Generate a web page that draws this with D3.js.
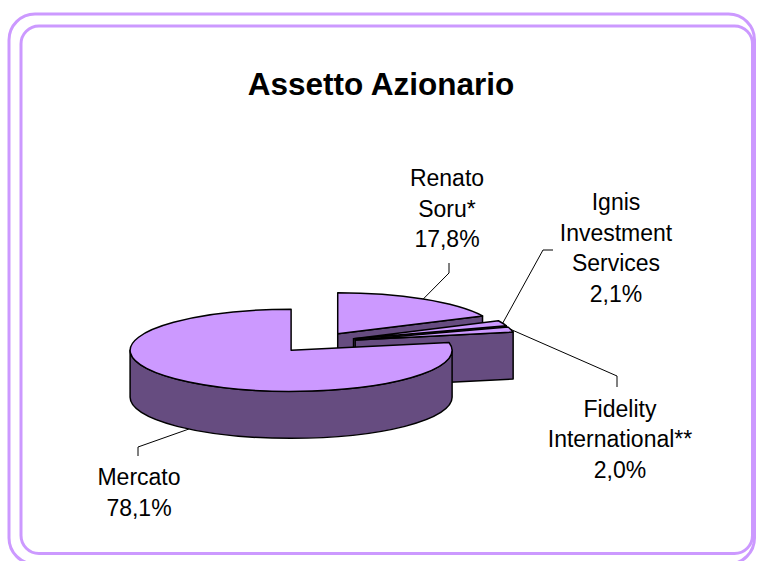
<!DOCTYPE html>
<html>
<head>
<meta charset="utf-8">
<script src="https://cdn.jsdelivr.net/npm/d3@7"></script>
<style>
  body { margin: 0; background: #fff; }
  svg { display: block; font-family: "Liberation Sans", Arial, sans-serif; }
</style>
</head>
<body>
<svg width="757" height="561"></svg>
<script>
// Slices, clockwise from 12 o'clock
const names = [["Renato", "Soru*"], ["Ignis", "Investment", "Services"], ["Fidelity", "International**"], ["Mercato"]];
const shares = [17.8, 2.1, 2.0, 78.1];
const title = "Assetto Azionario";

// label placement: text centre, first baseline, leader elbow points
const labelPos = [
    {x: 447, y: 186, elbow: [[449, 273], [449, 263]]},
    {x: 616, y: 210, elbow: [[543, 250], [553, 250]]},
    {x: 620, y: 416.5, elbow: [[617, 376], [617, 387]]},
    {x: 139, y: 485, elbow: [[138, 447], [138, 456]]}
];

// pie geometry
const cx = 316.5, cy = 342.5, rx = 161, ry = 41, depth = 47, explode = 40;
const topColor = "#cc99ff", sideColor = "#664c80";
const lineGap = 30.5;

const svg = d3.select("svg");

// double rounded frame
svg.append("rect")
    .attr("x", 9).attr("y", 14).attr("width", 745.5).attr("height", 550).attr("rx", 26)
    .attr("fill", "none").attr("stroke", "#cc99ff").attr("stroke-width", 3);
svg.append("rect")
    .attr("x", 21).attr("y", 26).attr("width", 731.5).attr("height", 527.5).attr("rx", 18)
    .attr("fill", "none").attr("stroke", "#cc99ff").attr("stroke-width", 3);

// title
svg.append("text")
    .attr("x", 381).attr("y", 95)
    .attr("text-anchor", "middle")
    .style("font-size", "31.5px").style("font-weight", "bold")
    .text(title);

const arcs = d3.pie().sort(null).value(d => d)(shares);

function pt(c, a, z) {
    return [c[0] + rx * Math.sin(a), c[1] - ry * Math.cos(a) + z];
}
function centerOf(d) {
    const mid = (d.startAngle + d.endAngle) / 2;
    return [cx + explode * Math.sin(mid), cy - explode * ry / rx * Math.cos(mid)];
}
function topPath(c, a0, a1) {
    const large = a1 - a0 > Math.PI ? 1 : 0;
    return `M${c[0]},${c[1]}L${pt(c, a0, 0)}A${rx},${ry} 0 ${large} 1 ${pt(c, a1, 0)}Z`;
}
function wallPath(c, b0, b1) {
    const large = b1 - b0 > Math.PI ? 1 : 0;
    return `M${pt(c, b0, 0)}A${rx},${ry} 0 ${large} 1 ${pt(c, b1, 0)}` +
           `L${pt(c, b1, depth)}A${rx},${ry} 0 ${large} 0 ${pt(c, b0, depth)}Z`;
}
function sidePath(c, a) {
    return `M${c[0]},${c[1]}L${pt(c, a, 0)}L${pt(c, a, depth)}L${c[0]},${c[1] + depth}Z`;
}

// paint back slices first
const order = arcs.map((d, i) => i)
    .sort((i, j) => -Math.cos((arcs[i].startAngle + arcs[i].endAngle) / 2) + Math.cos((arcs[j].startAngle + arcs[j].endAngle) / 2));

const pieG = svg.append("g")
    .attr("stroke", "#000").attr("stroke-width", 1.5).attr("stroke-linejoin", "round");

order.forEach(i => {
    const d = arcs[i], c = centerOf(d);
    const g = pieG.append("g");
    if (Math.sin(d.startAngle) < -0.001) g.append("path").attr("d", sidePath(c, d.startAngle)).attr("fill", sideColor);
    if (Math.sin(d.endAngle) > 0.001) g.append("path").attr("d", sidePath(c, d.endAngle)).attr("fill", sideColor);
    const b0 = Math.max(d.startAngle, Math.PI / 2), b1 = Math.min(d.endAngle, 3 * Math.PI / 2);
    if (b1 > b0) g.append("path").attr("d", wallPath(c, b0, b1)).attr("fill", sideColor);
    g.append("path").attr("d", topPath(c, d.startAngle, d.endAngle)).attr("fill", topColor);
});

// labels and leader lines
const pct = v => d3.format(".1f")(v).replace(".", ",") + "%";

arcs.forEach((d, i) => {
    const c = centerOf(d), mid = (d.startAngle + d.endAngle) / 2;
    const anchor = pt(c, mid, Math.cos(mid) < 0 ? depth : 0);
    svg.append("path")
        .attr("d", d3.line()([anchor, ...labelPos[i].elbow]))
        .attr("fill", "none").attr("stroke", "#000").attr("stroke-width", 1);

    const lines = names[i].concat(pct(shares[i]));
    svg.append("text")
        .attr("text-anchor", "middle")
        .style("font-size", "23px")
        .selectAll("tspan")
        .data(lines)
        .join("tspan")
        .attr("x", labelPos[i].x)
        .attr("y", (t, k) => labelPos[i].y + k * lineGap)
        .text(t => t);
});
</script>
</body>
</html>
